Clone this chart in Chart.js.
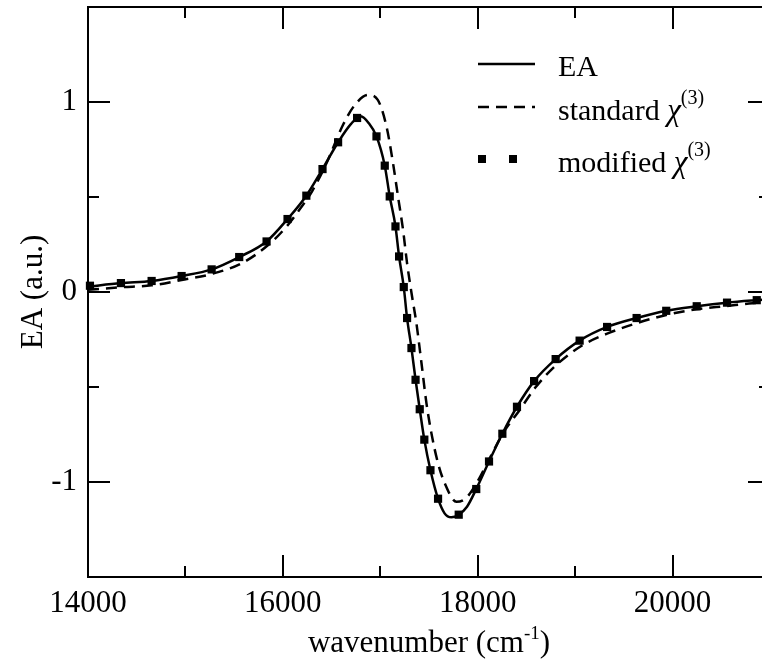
<!DOCTYPE html>
<html>
<head>
<meta charset="utf-8">
<script src="https://cdn.jsdelivr.net/npm/chart.js@4/dist/chart.umd.min.js"></script>
<style>
  html, body { margin: 0; padding: 0; background: #fff; overflow: hidden; }
  canvas { display: block; }
</style>
</head>
<body>
<canvas id="eaChart" width="780" height="666"></canvas>
<script>
// Values
const xMajorTicks = [14000, 16000, 18000, 20000];
const xMinorTicks = [15000, 17000, 19000];
const yMajorTicks = [-1, 0, 1];
const yMinorTicks = [-0.5, 0.5];

// EA (solid line)
const eaWavenumber = [14000, 14338, 14653, 14961, 15269, 15552, 15833, 16048, 16241, 16407, 16567, 16700, 16800, 16880, 16961, 17046, 17097, 17156, 17193, 17241, 17275, 17320, 17362, 17405, 17452, 17515, 17593, 17660, 17730, 17805, 17890, 17985, 18116, 18253, 18403, 18579, 18800, 19046, 19328, 19631, 19935, 20248, 20559, 20864, 21000];
const eaSignal = [0.028, 0.047, 0.058, 0.084, 0.119, 0.184, 0.266, 0.384, 0.507, 0.647, 0.788, 0.885, 0.925, 0.89, 0.819, 0.665, 0.503, 0.345, 0.187, 0.026, -0.137, -0.295, -0.462, -0.617, -0.777, -0.938, -1.088, -1.165, -1.186, -1.172, -1.13, -1.037, -0.892, -0.746, -0.604, -0.469, -0.353, -0.256, -0.184, -0.137, -0.099, -0.075, -0.056, -0.043, -0.038];

// standard chi(3) (dashed line)
const stdWavenumber = [14000, 14346, 14653, 14961, 15269, 15576, 15849, 16054, 16192, 16300, 16450, 16618, 16738, 16875, 16974, 17064, 17131, 17182, 17234, 17275, 17320, 17371, 17423, 17474, 17525, 17593, 17662, 17782, 17877, 17987, 18123, 18259, 18431, 18585, 18807, 19080, 19354, 19644, 19935, 20243, 20551, 20821, 21000];
const stdSignal = [0.012, 0.025, 0.035, 0.063, 0.095, 0.151, 0.247, 0.354, 0.449, 0.53, 0.68, 0.88, 0.984, 1.037, 1.011, 0.870, 0.677, 0.502, 0.326, 0.151, -0.004, -0.165, -0.375, -0.586, -0.744, -0.902, -1.007, -1.104, -1.086, -1.007, -0.875, -0.744, -0.621, -0.507, -0.384, -0.279, -0.214, -0.162, -0.121, -0.091, -0.074, -0.059, -0.054];

// modified chi(3) (square markers)
const modWavenumber = [14020, 14338, 14653, 14961, 15269, 15552, 15833, 16048, 16241, 16407, 16567, 16762, 16961, 17046, 17097, 17156, 17193, 17241, 17275, 17320, 17362, 17405, 17452, 17515, 17593, 17805, 17985, 18116, 18253, 18403, 18579, 18800, 19046, 19328, 19631, 19935, 20248, 20559, 20864];
const modSignal = [0.033, 0.047, 0.058, 0.084, 0.119, 0.184, 0.266, 0.384, 0.507, 0.647, 0.788, 0.916, 0.819, 0.665, 0.503, 0.345, 0.187, 0.026, -0.137, -0.295, -0.462, -0.617, -0.777, -0.938, -1.088, -1.172, -1.037, -0.892, -0.746, -0.604, -0.469, -0.353, -0.256, -0.184, -0.137, -0.099, -0.075, -0.056, -0.043];

const toPoints = (xs, ys) => xs.map((x, i) => ({ x: x, y: ys[i] }));

const SERIF = '"Liberation Serif", "DejaVu Serif", serif';

// Frame with inward ticks on all four sides
const frameTicksPlugin = {
    id: 'frameTicks',
    afterDatasetsDraw(chart) {
        const { ctx, chartArea: a, scales: { x, y } } = chart;
        ctx.save();
        ctx.strokeStyle = '#000';
        ctx.lineWidth = 2;
        ctx.strokeRect(a.left, a.top, a.right - a.left, a.bottom - a.top);
        ctx.beginPath();
        const xTick = (v, len) => {
            const px = Math.round(x.getPixelForValue(v));
            ctx.moveTo(px, a.bottom); ctx.lineTo(px, a.bottom - len);
            ctx.moveTo(px, a.top); ctx.lineTo(px, a.top + len);
        };
        const yTick = (v, len) => {
            const py = Math.round(y.getPixelForValue(v));
            ctx.moveTo(a.left, py); ctx.lineTo(a.left + len, py);
            ctx.moveTo(a.right, py); ctx.lineTo(a.right - len, py);
        };
        xMajorTicks.forEach(v => xTick(v, 22));
        xMinorTicks.forEach(v => xTick(v, 11));
        yMajorTicks.forEach(v => yTick(v, 22));
        yMinorTicks.forEach(v => yTick(v, 11));
        ctx.stroke();
        ctx.restore();
    }
};

// draw text with a raised small part, e.g. chi^(3)
function drawRich(ctx, parts, x, y) {
    let cx = x;
    parts.forEach(p => {
        ctx.font = (p.italic ? 'italic ' : '') + p.size + 'px ' + SERIF;
        ctx.fillText(p.text, cx, y - (p.rise || 0));
        cx += ctx.measureText(p.text).width;
    });
    return cx - x;
}

function richWidth(ctx, parts) {
    let w = 0;
    parts.forEach(p => {
        ctx.font = (p.italic ? 'italic ' : '') + p.size + 'px ' + SERIF;
        w += ctx.measureText(p.text).width;
    });
    return w;
}

// Axis titles and legend
const textPlugin = {
    id: 'labels',
    afterDraw(chart) {
        const { ctx, chartArea: a } = chart;
        ctx.save();
        ctx.fillStyle = '#000';
        ctx.strokeStyle = '#000';
        ctx.textBaseline = 'alphabetic';
        ctx.textAlign = 'left';

        // x title
        const xTitle = [
            { text: 'wavenumber (cm', size: 31 },
            { text: '-1', size: 19, rise: 13 },
            { text: ')', size: 31 }
        ];
        const w = richWidth(ctx, xTitle);
        drawRich(ctx, xTitle, (a.left + a.right) / 2 - w / 2, 652);

        // y title
        ctx.save();
        ctx.translate(42, (a.top + a.bottom) / 2);
        ctx.rotate(-Math.PI / 2);
        ctx.font = '31px ' + SERIF;
        ctx.textAlign = 'center';
        ctx.fillText('EA (a.u.)', 0, 0);
        ctx.restore();

        // legend marks
        ctx.lineWidth = 2.5;
        ctx.beginPath();
        ctx.moveTo(478, 64); ctx.lineTo(535, 64);
        ctx.stroke();
        ctx.setLineDash([11, 7]);
        ctx.beginPath();
        ctx.moveTo(478, 107); ctx.lineTo(535, 107);
        ctx.stroke();
        ctx.setLineDash([]);
        ctx.fillRect(478, 155, 8, 8);
        ctx.fillRect(509, 155, 8, 8);

        // legend texts
        drawRich(ctx, [{ text: 'EA', size: 30 }], 558, 76);
        drawRich(ctx, [
            { text: 'standard ', size: 30 },
            { text: '\u03C7', size: 31, italic: true },
            { text: '(3)', size: 20, rise: 16 }
        ], 558, 120);
        drawRich(ctx, [
            { text: 'modified ', size: 30 },
            { text: '\u03C7', size: 31, italic: true },
            { text: '(3)', size: 20, rise: 16 }
        ], 558, 172);
        ctx.restore();
    }
};

const ctx = document.getElementById('eaChart');
new Chart(ctx.getContext('2d'), {
    type: 'line',
    data: {
        datasets: [
            {
                label: 'modified \u03C7(3)',
                data: toPoints(modWavenumber, modSignal),
                showLine: false,
                pointStyle: 'rect',
                pointRadius: 5.8,
                pointBorderWidth: 0,
                pointBackgroundColor: '#000',
                clip: false
            },
            {
                label: 'EA',
                data: toPoints(eaWavenumber, eaSignal),
                borderColor: '#000',
                borderWidth: 2.5,
                pointRadius: 0,
                cubicInterpolationMode: 'monotone',
                fill: false
            },
            {
                label: 'standard \u03C7(3)',
                data: toPoints(stdWavenumber, stdSignal),
                borderColor: '#000',
                borderWidth: 2.5,
                borderDash: [11, 7],
                pointRadius: 0,
                cubicInterpolationMode: 'monotone',
                fill: false
            }
        ]
    },
    options: {
        responsive: false,
        animation: false,
        layout: { padding: { left: 0, top: 7, right: 10, bottom: 0 } },
        plugins: {
            legend: { display: false },
            tooltip: { enabled: false }
        },
        scales: {
            x: {
                type: 'linear',
                min: 14000,
                max: 21000,
                grid: { display: false },
                border: { display: false },
                ticks: {
                    color: '#000',
                    padding: 0,
                    maxRotation: 0,
                    font: { family: SERIF, size: 31 },
                    callback: v => String(v)
                },
                afterBuildTicks: s => { s.ticks = xMajorTicks.map(v => ({ value: v })); },
                afterFit: s => { s.height = 89; s.paddingLeft = 0; s.paddingRight = 0; }
            },
            y: {
                type: 'linear',
                min: -1.5,
                max: 1.5,
                grid: { display: false },
                border: { display: false },
                ticks: {
                    color: '#000',
                    padding: 3,
                    font: { family: SERIF, size: 31 },
                    callback: v => String(v)
                },
                afterBuildTicks: s => { s.ticks = yMajorTicks.map(v => ({ value: v })); },
                afterFit: s => { s.width = 88; s.paddingTop = 0; s.paddingBottom = 0; }
            }
        }
    },
    plugins: [frameTicksPlugin, textPlugin]
});
</script>
</body>
</html>
